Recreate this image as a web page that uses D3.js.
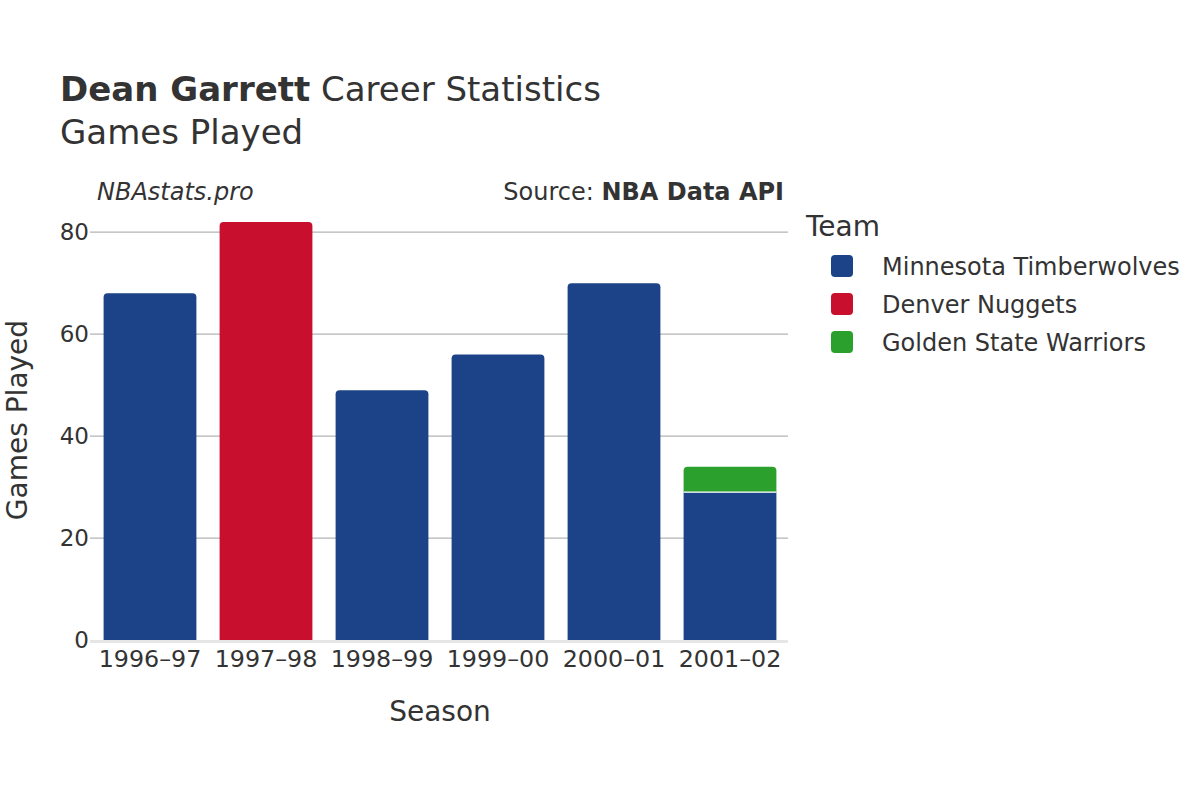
<!DOCTYPE html>
<html><head><meta charset="utf-8">
<script src="https://cdn.jsdelivr.net/npm/d3@7"></script>
<style>body{margin:0;background:#fff}svg{font-family:"DejaVu Sans",sans-serif}</style>
</head><body><svg id="c" width="1200" height="800"></svg>
<script>
const seasons = ["1996–97","1997–98","1998–99","1999–00","2000–01","2001–02"];
const teams = ["Minnesota Timberwolves","Denver Nuggets","Golden State Warriors"];
const teamColors = ["#1c4387","#c8102e","#2ca02c"];
const minValues = [68,0,49,56,70,29];
const denValues = [0,82,0,0,0,0];
const gswValues = [0,0,0,0,0,5];
const yTicks = [0,20,40,60,80];

const svg = d3.select("#c");
const x = d3.scaleBand().domain(seasons).range([92,788]).paddingInner(0.2).paddingOuter(0.1);
const y = d3.scaleLinear().domain([0,82]).range([640,222]);
const seriesVals = [minValues, denValues, gswValues];

// gridlines
svg.append("g").selectAll("line").data(yTicks.filter(d=>d>0)).join("line")
  .attr("x1",90).attr("x2",788).attr("y1",d=>y(d)).attr("y2",d=>y(d))
  .attr("stroke","#b4b4b4").attr("stroke-width",1.2);
svg.append("line").attr("x1",90).attr("x2",788).attr("y1",y(0)+1.5).attr("y2",y(0)+1.5)
  .attr("stroke","#e6e6e6").attr("stroke-width",3);

// bars
const r = 4;
function barPath(x0,w,yTop,yBot,round){
  if(!round) return `M${x0},${yBot}V${yTop}H${x0+w}V${yBot}Z`;
  return `M${x0},${yBot}V${yTop+r}Q${x0},${yTop} ${x0+r},${yTop}H${x0+w-r}Q${x0+w},${yTop} ${x0+w},${yTop+r}V${yBot}Z`;
}
const gBars = svg.append("g");
seasons.forEach((s,i)=>{
  let base = 0;
  const tops = [];
  seriesVals.forEach((vals,k)=>{ if(vals[i]>0) tops.push(k); });
  const last = tops[tops.length-1];
  seriesVals.forEach((vals,k)=>{
    const v = vals[i];
    if(v<=0) return;
    const yb = y(base), yt = y(base+v);
    gBars.append("path").attr("d", barPath(x(s), x.bandwidth(), yt, yb, k===last))
      .attr("fill", teamColors[k]);
    if(base>0){
      gBars.append("line").attr("x1",x(s)).attr("x2",x(s)+x.bandwidth())
        .attr("y1",yb).attr("y2",yb).attr("stroke","#fff").attr("stroke-width",1.2);
    }
    base += v;
  });
});

// axes labels
const fg = "#333";
svg.append("g").selectAll("text").data(yTicks).join("text")
  .attr("x",89).attr("y",d=>y(d)+8).attr("text-anchor","end")
  .attr("font-size",23).attr("fill",fg).text(d=>d);
svg.append("g").selectAll("text").data(seasons).join("text")
  .attr("x",d=>x(d)+x.bandwidth()/2).attr("y",667).attr("text-anchor","middle")
  .attr("font-size",23.8).attr("fill",fg).text(d=>d);

svg.append("text").attr("x",440).attr("y",721).attr("text-anchor","middle").attr("font-size",28).attr("fill",fg).text("Season");
svg.append("text").attr("transform","translate(27,420) rotate(-90)").attr("text-anchor","middle").attr("font-size",28).attr("fill",fg).text("Games Played");

// title
const t = svg.append("text").attr("x",60).attr("y",101).attr("font-size",34).attr("fill",fg);
t.append("tspan").attr("font-weight","bold").text("Dean Garrett");
t.append("tspan").text(" Career Statistics");
svg.append("text").attr("x",60).attr("y",144).attr("font-size",34).attr("fill",fg).text("Games Played");

svg.append("text").attr("x",97).attr("y",200).attr("font-size",24).attr("font-style","italic").attr("fill",fg).text("NBAstats.pro");
const src = svg.append("text").attr("x",784).attr("y",200).attr("text-anchor","end").attr("font-size",24).attr("fill",fg);
src.append("tspan").text("Source: ");
src.append("tspan").attr("font-weight","bold").text("NBA Data API");

// legend
svg.append("text").attr("x",806).attr("y",236).attr("font-size",28).attr("fill",fg).text("Team");
const lg = svg.append("g").selectAll("g").data(teams).join("g")
  .attr("transform",(d,i)=>`translate(831,${255+i*38})`);
lg.append("rect").attr("width",22).attr("height",22).attr("rx",4).attr("fill",(d,i)=>teamColors[i]);
lg.append("text").attr("x",51).attr("y",20).attr("font-size",24).attr("fill",fg).text(d=>d);
</script></body></html>
